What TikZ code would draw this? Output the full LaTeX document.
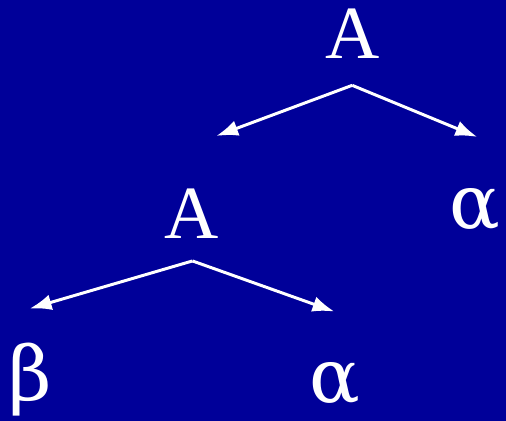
\documentclass[tikz,border=0pt]{standalone}
\usepackage{fontspec}
\setmainfont{Liberation Serif}
\newfontfamily\greekfont{DejaVu Serif}
\usetikzlibrary{arrows.meta}
\definecolor{slideblue}{RGB}{0,0,153}

\begin{document}
\begin{tikzpicture}[x=1bp,y=-1bp,
  sym/.style={text=white,inner sep=0pt,font=\fontsize{76}{76}\selectfont},
  greek/.style={sym,font=\fontsize{76}{76}\selectfont\greekfont},
  arr/.style={draw=white,line width=3bp,-{Latex[length=22bp,width=16bp]}}]
\fill[slideblue] (-2,-2) rectangle (508,422);
\useasboundingbox (0,0) rectangle (506,420);
% symbols
\node [sym] (root) at (353,32) {A};
\node [sym] (inner) at (191,213) {A};
\node [greek] (alphaR) at (477,209) {α};
\node [greek] (beta) at (28,381) {β};
\node [greek] (alphaL) at (336,385) {α};
% ends of the arrows
\coordinate (rootFork) at (353,84);
\coordinate (innerFork) at (192,261);
\coordinate (toInner) at (216,135);
\coordinate (toAlphaR) at (479,136);
\coordinate (toBeta) at (28,309);
\coordinate (toAlphaL) at (335,312);
\draw [arr] (rootFork) -- (toInner);
\draw [arr] (rootFork) -- (toAlphaR);
\draw [arr] (innerFork) -- (toBeta);
\draw [arr] (innerFork) -- (toAlphaL);
\end{tikzpicture}
\end{document}
